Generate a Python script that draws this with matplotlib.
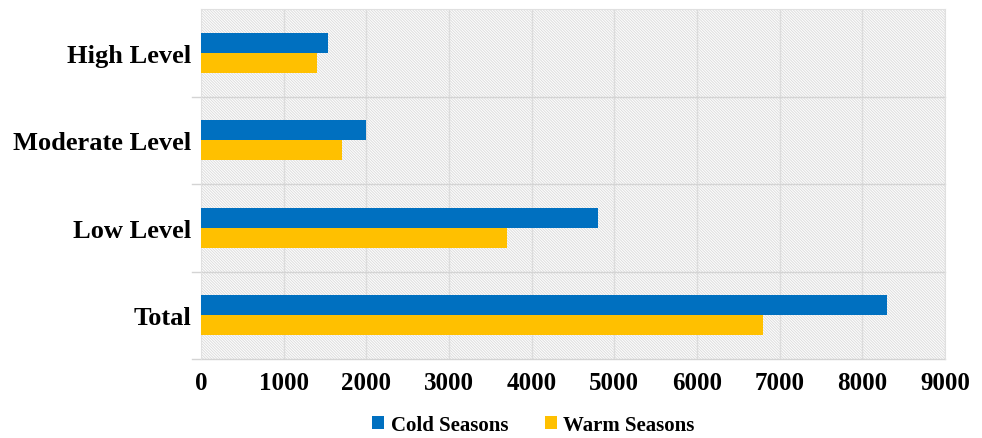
# horizontal bar chart of cold vs warm season counts per level

import matplotlib.pyplot as plt
import numpy as np
from matplotlib.patches import Rectangle

categories = ['Total', 'Low Level', 'Moderate Level', 'High Level']
cold_seasons = [8300, 4800, 2000, 1540]
warm_seasons = [6800, 3700, 1700, 1400]
xticks = [0, 1000, 2000, 3000, 4000, 5000, 6000, 7000, 8000, 9000]

plt.rcParams['font.family'] = ['Liberation Serif', 'DejaVu Serif']
plt.rcParams['font.weight'] = 'bold'
plt.rcParams['hatch.color'] = '#dddddd'
plt.rcParams['hatch.linewidth'] = 0.7

fig = plt.figure(figsize=(9.82, 4.39), dpi=100)
ax = fig.add_axes([0.2047, 0.18, 0.7576, 0.797])

y = np.arange(len(categories))
h = 0.23
ax.barh(y + h / 2, cold_seasons, height=h, color='#0070C0', label='Cold Seasons', zorder=3)
ax.barh(y - h / 2, warm_seasons, height=h, color='#FFC000', label='Warm Seasons', zorder=3)

# hatched plot background
bg = Rectangle((0, 0), 1, 1, transform=ax.transAxes, facecolor='white',
               edgecolor='#dddddd', hatch='\\' * 12, linewidth=0, zorder=0)
ax.add_patch(bg)

ax.set_xlim(0, 9000)
ax.set_ylim(-0.5, len(categories) - 0.5)
ax.set_xticks(xticks)
ax.set_xticklabels([str(t) for t in xticks], fontsize=18, fontweight='bold')
ax.set_yticks(y)
ax.set_yticklabels(categories, fontsize=19, fontweight='bold')
ax.tick_params(axis='y', length=0, pad=7)
ax.tick_params(axis='x', length=0, pad=9)

# gridlines at x ticks and category boundaries
for t in xticks[1:]:
    ax.axvline(t, color='#dcdcdc', lw=1, zorder=1)
for b in np.arange(-0.5, len(categories) - 0.5, 1):
    ax.plot([-0.012, 1], [b, b], transform=ax.get_yaxis_transform(), color='#d4d4d4',
            lw=1, zorder=1, clip_on=False)

for s in ['top', 'right', 'left']:
    ax.spines[s].set_color('#e0e0e0')
ax.spines['bottom'].set_visible(False)

handles, labels = ax.get_legend_handles_labels()
fig.legend(handles, labels, loc='center', bbox_to_anchor=(0.543, 0.03), ncol=2,
           frameon=False, prop={'size': 15, 'weight': 'bold'}, handlelength=0.6,
           handleheight=0.6, handletextpad=0.3, columnspacing=1.75, borderpad=0)

fig.savefig('out.png', dpi=100)
